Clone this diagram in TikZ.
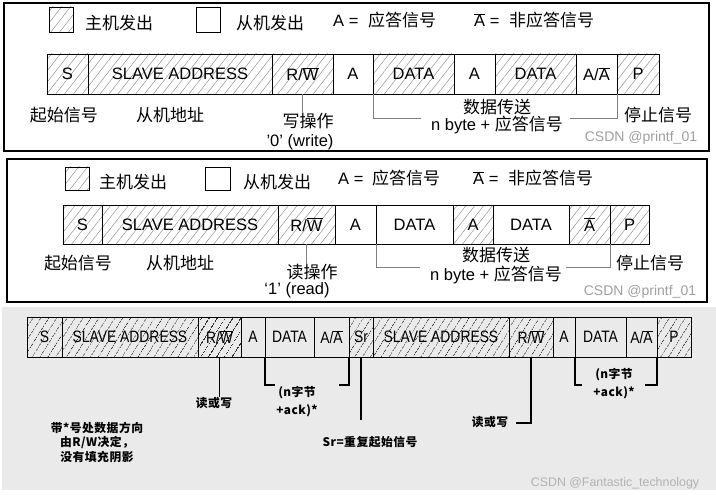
\documentclass[tikz,border=0pt]{standalone}
\usepackage{fontspec}
\setmainfont{Liberation Sans}
\newfontfamily\cjk{Noto Sans CJK SC}
\newfontfamily\cjkw[LetterSpace=4]{Noto Sans CJK SC}
\newfontfamily\narrow[FakeStretch=0.84]{Liberation Sans}
\usetikzlibrary{positioning,patterns.meta}
\newcommand\ovl[1]{$\overline{\mbox{#1}}$}
\definecolor{bggray}{HTML}{EAEAEA}
\tikzset{
	cell/.style={draw, line width=0.9pt, inner sep=0pt, outer sep=0pt, minimum height=40pt, font=\fontsize{16.5}{18}\selectfont},
	mst/.style={cell, pattern={Lines[angle=52,distance=7pt,line width=0.5pt]}, pattern color=gray!85},
	cellb/.style={cell, font=\narrow\fontsize{16.5}{18}\selectfont},
	mstb/.style={cellb, pattern={Lines[angle=58,distance=6.5pt,line width=0.8pt]}, pattern color=black!80},
	zh/.style={font=\cjk\fontsize{17}{20}\selectfont, inner sep=0pt},
	lat/.style={font=\fontsize{16.5}{20}\selectfont, inner sep=0pt},
	zhb/.style={font=\cjkw\bfseries\fontsize{11.8}{14}\selectfont, inner sep=0pt},
	wmark/.style={font=\fontsize{14}{16}\selectfont, text=gray!75, inner sep=0pt},
	frame/.style={line width=1.4pt},
	bkt/.style={draw=gray, line width=0.8pt},
	bktb/.style={draw=black, line width=1.2pt}
}
\begin{document}
\begin{tikzpicture}[x=1pt,y=-1pt]
	\useasboundingbox (0,0) rectangle (716,495);
	
	% elso abra: iras
	\draw[frame] (4,3) rectangle (709,151);
	\node[mst, minimum width=24pt, minimum height=25pt] (lgm1) at (61,19.5) {};
	\node[zh, anchor=west] (lgmt1) at (85,23) {主机发出};
	\node[cell, minimum width=24pt, minimum height=25pt] (lgs1) at (208,19.5) {};
	\node[zh, anchor=west] (lgst1) at (236,23) {从机发出};
	\node[lat, anchor=west] (lga1) at (333,20) {A = \hspace{5pt}{\cjk\fontsize{17}{20}\selectfont 应答信号}};
	\node[lat, anchor=west] (lgn1) at (474,20) {\ovl{A} = \hspace{5pt}{\cjk\fontsize{17}{20}\selectfont 非应答信号}};
	
	% cellak
	\node[mst, minimum width=41pt, anchor=west] (s1) at (47,74) {S};
	\node[mst, minimum width=184pt, right=0pt of s1] (ad1) {SLAVE ADDRESS};
	\node[mst, minimum width=61pt, right=0pt of ad1] (rw1) {R/\ovl{W}};
	\node[cell, minimum width=40pt, right=0pt of rw1] (a1) {A};
	\node[mst, minimum width=81pt, right=0pt of a1] (d1) {DATA};
	\node[cell, minimum width=41pt, right=0pt of d1] (a2) {A};
	\node[mst, minimum width=81pt, right=0pt of a2] (d2) {DATA};
	\node[cell, minimum width=41pt, right=0pt of d2] (an1) {A/\ovl{A}};
	\node[mst, minimum width=42pt, right=0pt of an1] (p1) {P};
	
	% feliratok
	\node[zh] (st1) at (64,115) {起始信号};
	\node[zh] (adl1) at (170,115) {从机地址};
	\node[zh] (wr1) at (308,121) {写操作};
	\node[lat] (wrb1) at (300,142) {'0' (write)};
	\node[zh] (dt1) at (497,107) {数据传送};
	\node[lat] (nb1) at (497,125) {n byte + {\cjk\fontsize{17}{20}\selectfont 应答信号}};
	\node[zh] (sp1) at (658,115) {停止信号};
	\node[wmark] (cs1) at (641,138) {CSDN @printf\_01};
	
	\draw[bkt] (rw1.south) -- (rw1.south |- wr1.north);
	\draw[bkt] (d1.south west) -- ++(0,24) -- ++(48,0);
	\draw[bkt] (an1.south east) -- ++(0,24) -- ++(-47,0);
	
	% masodik abra: olvasas
	\draw[frame] (7,159) rectangle (707,302);
	\node[mst, minimum width=24pt, minimum height=23pt] (lgm2) at (77,178.5) {};
	\node[zh, anchor=west] (lgmt2) at (99,182) {主机发出};
	\node[cell, minimum width=25pt, minimum height=23pt] (lgs2) at (217.5,178.5) {};
	\node[zh, anchor=west] (lgst2) at (243,182) {从机发出};
	\node[lat, anchor=west] (lga2) at (338,178) {A = \hspace{4pt}{\cjk\fontsize{17}{20}\selectfont 应答信号}};
	\node[lat, anchor=west] (lgn2) at (473,178) {\ovl{A} = \hspace{5pt}{\cjk\fontsize{17}{20}\selectfont 非应答信号}};
	
	\node[mst, minimum width=39pt, minimum height=39pt, anchor=west] (s2) at (63,224.5) {S};
	\node[mst, minimum width=176pt, minimum height=39pt, right=0pt of s2] (ad2) {SLAVE ADDRESS};
	\node[mst, minimum width=57pt, minimum height=39pt, right=0pt of ad2] (rw2) {R/\ovl{W}};
	\node[cell, minimum width=41pt, minimum height=39pt, right=0pt of rw2] (a3) {A};
	\node[cell, minimum width=77pt, minimum height=39pt, right=0pt of a3] (d3) {DATA};
	\node[mst, minimum width=40pt, minimum height=39pt, right=0pt of d3] (a4) {A};
	\node[cell, minimum width=76pt, minimum height=39pt, right=0pt of a4] (d4) {DATA};
	\node[mst, minimum width=41pt, minimum height=39pt, right=0pt of d4] (an2) {\ovl{A}};
	\node[mst, minimum width=39pt, minimum height=39pt, right=0pt of an2] (p2) {P};
	
	\node[zh] (st2) at (78,263) {起始信号};
	\node[zh] (adl2) at (180,263) {从机地址};
	\node[zh] (rd2) at (312,272) {读操作};
	\node[lat] (rdb2) at (297,290) {‘1’ (read)};
	\node[zh] (dt2) at (496,255) {数据传送};
	\node[lat] (nb2) at (496,275) {n byte + {\cjk\fontsize{17}{20}\selectfont 应答信号}};
	\node[zh] (sp2) at (650,263) {停止信号};
	\node[wmark] (cs2) at (640,292) {CSDN @printf\_01};
	
	\draw[bkt] (rw2.south) -- (rw2.south |- rd2.north);
	\draw[bkt] (d3.south west) -- ++(0,23) -- ++(44,0);
	\draw[bkt] (an2.south east) -- ++(0,23) -- ++(-44,0);
	
	% harmadik abra: ismetelt start
	\fill[bggray] (2,307) rectangle (716,490);
	\node[mstb, minimum width=35pt, anchor=west] (s3) at (27,337) {S};
	\node[mstb, minimum width=136pt, right=0pt of s3] (ad3) {SLAVE ADDRESS};
	\node[mstb, minimum width=43pt, right=0pt of ad3] (rw3) {R/\ovl{W}};
	\node[cellb, minimum width=24pt, right=0pt of rw3] (a5) {A};
	\node[cellb, minimum width=49pt, right=0pt of a5] (d5) {DATA};
	\node[cellb, minimum width=35pt, right=0pt of d5] (an3) {A/\ovl{A}};
	\node[mstb, minimum width=24pt, right=0pt of an3] (sr3) {Sr};
	\node[mstb, minimum width=136pt, right=0pt of sr3] (ad4) {SLAVE ADDRESS};
	\node[mstb, minimum width=44pt, right=0pt of ad4] (rw4) {R/\ovl{W}};
	\node[cellb, minimum width=22pt, right=0pt of rw4] (a6) {A};
	\node[cellb, minimum width=51pt, right=0pt of a6] (d6) {DATA};
	\node[cellb, minimum width=31pt, right=0pt of d6] (an4) {A/\ovl{A}};
	\node[mstb, minimum width=34pt, right=0pt of an4] (p3) {P};
	
	\node[zhb] (rw3l) at (214,403) {读或写};
	\node[zhb] (nk1) at (297,393) {(n字节};
	\node[zhb] (ak1) at (297,411) {+ack)*};
	\node[zhb] (srl) at (370,442) {Sr=重复起始信号};
	\node[zhb] (rw4l) at (490,422) {读或写};
	\node[zhb] (nk2) at (614,375) {(n字节};
	\node[zhb] (ak2) at (614,393) {+ack)*};
	\node[zhb] (nt1) at (97,428) {带*号处数据方向};
	\node[zhb] (nt2) at (97,442) {由R/W决定，};
	\node[zhb] (nt3) at (97,457) {没有填充阴影};
	\node[wmark, font=\fontsize{12.4}{14}\selectfont, text=gray!60] (cs3) at (615,483) {CSDN @Fantastic\_technology};
	
	\draw[bktb] (rw3.south) -- (rw3.south |- rw3l.north);
	\draw[bktb] (d5.south west) -- ++(0,28) -- ++(10,0);
	\draw[bktb] (an3.south east) -- ++(0,28) -- ++(-10,0);
	\draw[bktb] (sr3.south) -- ++(0,63);
	\draw[bktb] (rw4.south) -- ++(0,66) -- ++(-15,0);
	\draw[bktb] (d6.south west) -- ++(0,28) -- ++(7,0);
	\draw[bktb] (an4.south east) -- ++(0,28) -- ++(-12,0);
	
\end{tikzpicture}
\end{document}
